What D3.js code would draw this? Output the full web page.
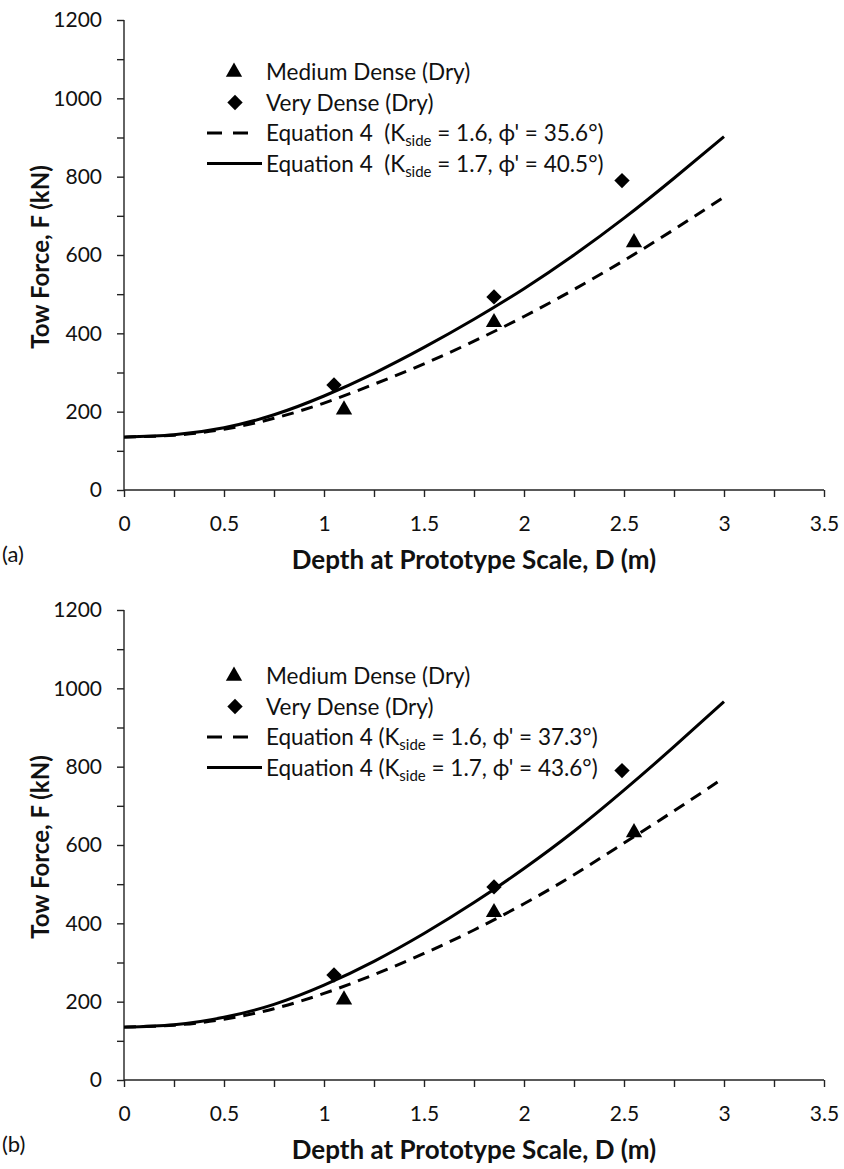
<!DOCTYPE html>
<html>
<head>
<meta charset="utf-8">
<script src="https://cdn.jsdelivr.net/npm/d3@7/dist/d3.min.js"></script>
<style>
  body { margin: 0; background: #fff; }
  text { font-family: Lato, "Open Sans", sans-serif; fill: #111; }
</style>
</head>
<body>
<svg id="chart" width="844" height="1169"></svg>
<script>
// depth grid the equation curves were read at
const depthGrid = [0, 0.25, 0.5, 0.75, 1.0, 1.25, 1.5, 1.75, 2.0, 2.25, 2.5, 2.75, 3.0];

// panel (a) curves
const eqA_dashed = [135, 140, 155, 183, 222, 270, 322, 380, 443, 512, 586, 665, 748];
const eqA_solid = [135, 141, 159, 192, 240, 298, 364, 436, 514, 600, 694, 796, 902];
// panel (b) curves
const eqB_dashed = [135, 140, 155, 182, 221, 269, 323, 383, 450, 524, 605, 687, 772];
const eqB_solid = [135, 141, 160, 193, 242, 303, 374, 453, 540, 635, 740, 851, 966];

// test results (same in both panels)
const mediumDepth = [1.1, 1.85, 2.55];
const mediumForce = [205, 428, 632];
const veryDepth = [1.05, 1.85, 2.49];
const veryForce = [268, 493, 790];

const xTicks = [0, 0.5, 1, 1.5, 2, 2.5, 3, 3.5];
const yTicks = [0, 200, 400, 600, 800, 1000, 1200];

const labelsA = ["Equation 4  (K", " = 1.6, \u03D5' = 35.6°)", " = 1.7, \u03D5' = 40.5°)"];
const labelsB = ["Equation 4 (K", " = 1.6, \u03D5' = 37.3°)", " = 1.7, \u03D5' = 43.6°)"];

const svg = d3.select("#chart");

const x = d3.scaleLinear().domain([0, 3.5]).range([124, 824]);

function drawPanel(top, dashedVals, solidVals, labels, legendTop, letter) {
  const g = svg.append("g");
  const y = d3.scaleLinear().domain([0, 1200]).range([top + 470, top]);
  const bottom = top + 470;

  // axes, minor ticks are unlabeled
  const xAxis = d3.axisBottom(x)
    .tickValues(d3.range(0, 3.51, 0.25))
    .tickSize(7)
    .tickFormat(d => xTicks.includes(d) ? d3.format("~g")(d) : "");
  const gx = g.append("g").attr("transform", "translate(0," + bottom + ")").call(xAxis);
  gx.select(".domain").attr("d", "M124,0H824");
  gx.selectAll("text").attr("dy", 0).attr("y", 41).style("font-size", "21px");

  const yAxis = d3.axisLeft(y)
    .tickValues(d3.range(0, 1201, 100))
    .tickSize(7)
    .tickFormat(d => yTicks.includes(d) ? d : "");
  const gy = g.append("g").attr("transform", "translate(124,0)").call(yAxis);
  gy.select(".domain").attr("d", "M0," + top + "V" + bottom);
  gy.selectAll("text").attr("x", -22).style("font-size", "21px");
  g.selectAll(".domain, .tick line").attr("stroke", "#222").attr("stroke-width", 1.4);

  // curves
  const line = d3.line()
    .x((d, i) => x(depthGrid[i]))
    .y(d => y(d))
    .curve(d3.curveNatural);
  g.append("path").attr("d", line(dashedVals))
    .attr("fill", "none").attr("stroke", "#000").attr("stroke-width", 3)
    .attr("stroke-dasharray", "12,8");
  g.append("path").attr("d", line(solidVals))
    .attr("fill", "none").attr("stroke", "#000").attr("stroke-width", 3);

  // points
  const tri = d3.symbol().type(d3.symbolTriangle).size(115);
  const dia = d3.symbol().type(d3.symbolSquare).size(118);
  g.selectAll(".tri").data(mediumDepth).join("path")
    .attr("class", "tri").attr("d", tri)
    .attr("transform", (d, i) => "translate(" + x(d) + "," + y(mediumForce[i]) + ")");
  g.selectAll(".dia").data(veryDepth).join("path")
    .attr("class", "dia").attr("d", dia)
    .attr("transform", (d, i) => "translate(" + x(d) + "," + y(veryForce[i]) + ") rotate(45)");

  // legend
  const rowH = 30.5;
  const lx = 266;
  const rows = [legendTop, legendTop + rowH, legendTop + 2 * rowH, legendTop + 3 * rowH];
  g.append("path").attr("d", tri).attr("transform", "translate(234," + rows[0] + ")");
  g.append("path").attr("d", dia).attr("transform", "translate(235," + rows[1] + ") rotate(45)");
  g.append("line").attr("x1", 207).attr("x2", 252).attr("y1", rows[2]).attr("y2", rows[2])
    .attr("stroke", "#000").attr("stroke-width", 3).attr("stroke-dasharray", "15,11");
  g.append("line").attr("x1", 207).attr("x2", 262).attr("y1", rows[3]).attr("y2", rows[3])
    .attr("stroke", "#000").attr("stroke-width", 3);

  const ls = g.append("g").style("font-size", "22.5px");
  ls.append("text").attr("x", lx).attr("y", rows[0] + 8).text("Medium Dense (Dry)");
  ls.append("text").attr("x", lx).attr("y", rows[1] + 8).text("Very Dense (Dry)");
  [1, 2].forEach(k => {
    const t = ls.append("text").attr("x", lx).attr("y", rows[k + 1] + 8).style("white-space", "pre");
    t.append("tspan").text(labels[0]);
    t.append("tspan").attr("dy", 5).style("font-size", "15px").text("side");
    t.append("tspan").attr("dy", -5).text(labels[k]);
  });

  // titles
  g.append("text").attr("x", 474).attr("y", bottom + 79)
    .attr("text-anchor", "middle").style("font-size", "26px").style("font-weight", "bold")
    .text("Depth at Prototype Scale, D (m)");
  g.append("text").attr("transform", "translate(49," + (top + 237) + ") rotate(-90)")
    .attr("text-anchor", "middle").style("font-size", "24px").style("font-weight", "bold")
    .text("Tow Force, F (kN)");
  g.append("text").attr("x", 2).attr("y", bottom + 72).style("font-size", "22px").text(letter);
}

drawPanel(20, eqA_dashed, eqA_solid, labelsA, 72, "(a)");
drawPanel(610, eqB_dashed, eqB_solid, labelsB, 676, "(b)");
</script>
</body>
</html>
